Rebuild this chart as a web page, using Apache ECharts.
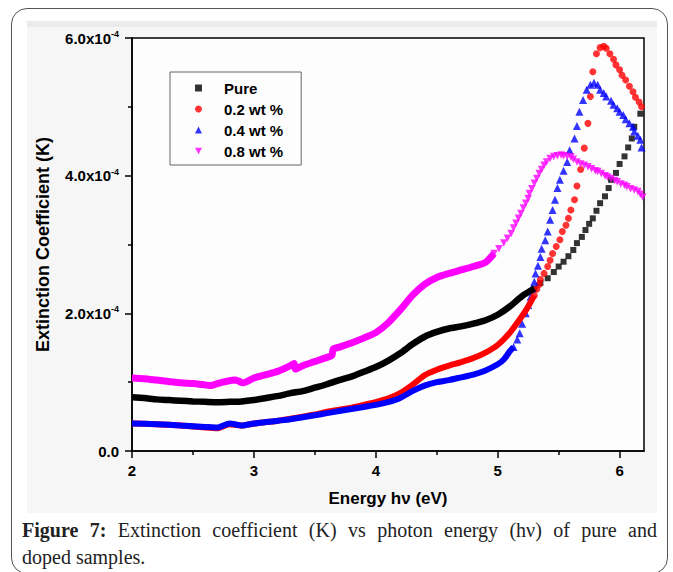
<!DOCTYPE html>
<html>
<head>
    <meta charset="utf-8">
    <title>Extinction coefficient vs photon energy</title>
    <script src="https://cdn.jsdelivr.net/npm/echarts@6.0.0/dist/echarts.min.js"></script>
    <style>
        html, body { margin: 0; padding: 0; background: #fff; }
        #wrap { position: relative; width: 673px; height: 572px; overflow: hidden; }
        #card { position: absolute; left: 11px; top: 8px; width: 657px; height: 566px; border: 1.5px solid #555; border-radius: 16px; box-sizing: border-box; }
        #chart { position: absolute; left: 0; top: 0; width: 673px; height: 572px; }
        #caption { position: absolute; left: 22px; top: 517px; width: 635px; font-family: "Liberation Serif", "DejaVu Serif", serif; font-size: 20px; line-height: 27px; color: #222; }
        #caption .l1 { text-align: justify; text-align-last: justify; }
    </style>
</head>
<body>
<div id="wrap">
    <div id="card"></div>
    <div id="chart"></div>
    <div id="caption">
        <div class="l1"><b>Figure 7:</b> Extinction coefficient (K) vs photon energy (hν) of pure and</div>
        <div>doped samples.</div>
    </div>
</div>
<script>
    // values, K in units of 1e-4
    // dense part (markers merge into a band) and sparse part (separate markers)
    var pureLine = [[2.0,0.78],[2.1,0.77],[2.2,0.75],[2.3,0.74],[2.4,0.73],[2.5,0.72],[2.6,0.715],[2.7,0.71],[2.8,0.715],[2.9,0.72],
        [3.0,0.74],[3.1,0.77],[3.2,0.80],[3.3,0.84],[3.4,0.87],[3.5,0.92],[3.6,0.97],[3.7,1.03],[3.8,1.08],[3.9,1.15],
        [4.0,1.22],[4.1,1.31],[4.2,1.42],[4.3,1.55],[4.4,1.66],[4.5,1.73],[4.6,1.78],[4.7,1.81],[4.8,1.85],[4.9,1.90],
        [5.0,1.98],[5.1,2.10],[5.2,2.25],[5.3,2.36]];
    var pureDots = [[5.30,2.36],[5.35,2.44],[5.41,2.51],[5.46,2.60],[5.50,2.68],[5.54,2.75],[5.58,2.83],[5.62,2.92],[5.65,3.02],
        [5.69,3.11],[5.72,3.21],[5.75,3.30],[5.78,3.38],[5.81,3.49],[5.84,3.60],[5.88,3.70],[5.91,3.82],[5.93,3.94],
        [5.97,4.04],[6.00,4.17],[6.04,4.28],[6.07,4.41],[6.10,4.54],[6.12,4.71],[6.17,4.90]];

    var wt02Line = [[2.0,0.40],[2.2,0.39],[2.4,0.37],[2.6,0.34],[2.7,0.33],[2.8,0.39],[2.9,0.37],[3.0,0.40],[3.1,0.42],[3.2,0.44],
        [3.3,0.47],[3.4,0.50],[3.5,0.53],[3.6,0.57],[3.7,0.60],[3.8,0.63],[3.9,0.67],[4.0,0.71],[4.1,0.76],[4.2,0.84],
        [4.3,0.96],[4.4,1.10],[4.5,1.18],[4.6,1.24],[4.7,1.29],[4.8,1.35],[4.9,1.43],[5.0,1.54],[5.1,1.72],[5.2,1.96],
        [5.25,2.10],[5.3,2.26]];
    var wt02Dots = [[5.30,2.26],[5.32,2.35],[5.34,2.42],[5.35,2.49],[5.38,2.58],[5.41,2.68],[5.43,2.77],[5.45,2.87],[5.48,2.97],
        [5.51,3.07],[5.53,3.19],[5.56,3.28],[5.58,3.38],[5.60,3.50],[5.63,3.65],[5.65,3.85],[5.68,4.09],[5.71,4.40],
        [5.74,4.76],[5.76,5.15],[5.78,5.51],[5.81,5.77],[5.84,5.86],[5.87,5.88],[5.89,5.85],[5.92,5.77],[5.95,5.69],
        [5.97,5.61],[6.00,5.54],[6.02,5.46],[6.05,5.39],[6.08,5.30],[6.11,5.22],[6.13,5.14],[6.16,5.07],[6.18,5.00]];

    var wt04Line = [[2.0,0.40],[2.2,0.39],[2.4,0.37],[2.6,0.35],[2.7,0.34],[2.8,0.40],[2.9,0.37],[3.0,0.40],[3.1,0.42],[3.2,0.44],
        [3.3,0.46],[3.4,0.49],[3.5,0.52],[3.6,0.55],[3.7,0.58],[3.8,0.61],[3.9,0.64],[4.0,0.67],[4.1,0.71],[4.2,0.77],
        [4.3,0.87],[4.4,0.95],[4.5,1.00],[4.6,1.03],[4.7,1.07],[4.8,1.11],[4.9,1.17],[5.0,1.26],[5.05,1.33],[5.1,1.45],
        [5.13,1.51]];
    var wt04Dots = [[5.13,1.51],[5.16,1.62],[5.18,1.71],[5.20,1.85],[5.23,2.00],[5.25,2.12],[5.27,2.24],[5.28,2.36],[5.30,2.46],
        [5.31,2.58],[5.33,2.69],[5.35,2.82],[5.36,2.94],[5.39,3.06],[5.41,3.19],[5.43,3.36],[5.45,3.50],[5.47,3.65],
        [5.49,3.82],[5.51,3.94],[5.54,4.07],[5.57,4.20],[5.59,4.37],[5.63,4.54],[5.65,4.72],[5.67,4.93],[5.70,5.10],
        [5.73,5.25],[5.76,5.32],[5.79,5.35],[5.82,5.32],[5.84,5.25],[5.87,5.20],[5.89,5.15],[5.93,5.09],[5.95,5.03],
        [5.98,4.98],[6.00,4.93],[6.03,4.88],[6.05,4.82],[6.08,4.76],[6.11,4.71],[6.12,4.64],[6.15,4.58],[6.17,4.52],
        [6.18,4.41]];

    var wt08Line = [[2.0,1.06],[2.1,1.05],[2.2,1.03],[2.3,1.01],[2.4,0.99],[2.5,0.98],[2.6,0.96],[2.65,0.95],[2.7,0.98],[2.77,1.01],
        [2.85,1.03],[2.91,0.99],[3.0,1.06],[3.1,1.11],[3.2,1.16],[3.3,1.24],[3.33,1.27],[3.34,1.19],[3.4,1.24],[3.5,1.30],
        [3.6,1.36],[3.64,1.39],[3.65,1.48],[3.7,1.51],[3.8,1.57],[3.9,1.64],[4.0,1.72],[4.1,1.86],[4.2,2.05],[4.3,2.26],
        [4.4,2.42],[4.5,2.52],[4.6,2.58],[4.7,2.63],[4.8,2.68],[4.9,2.74],[4.97,2.87]];
    var wt08Dots = [[4.97,2.87],[5.01,2.94],[5.05,3.02],[5.08,3.09],[5.11,3.16],[5.13,3.24],[5.15,3.31],[5.17,3.38],[5.19,3.45],
        [5.21,3.53],[5.23,3.60],[5.25,3.67],[5.26,3.74],[5.28,3.81],[5.30,3.89],[5.32,3.96],[5.34,4.03],[5.36,4.09],
        [5.38,4.15],[5.40,4.20],[5.43,4.25],[5.46,4.28],[5.49,4.29],[5.52,4.30],[5.54,4.29],[5.57,4.28],[5.60,4.27],
        [5.62,4.24],[5.65,4.20],[5.68,4.17],[5.71,4.15],[5.74,4.13],[5.77,4.10],[5.80,4.07],[5.82,4.06],[5.85,4.03],
        [5.88,4.00],[5.90,3.98],[5.93,3.96],[5.96,3.93],[5.98,3.91],[6.01,3.88],[6.04,3.86],[6.06,3.84],[6.09,3.81],
        [6.12,3.79],[6.15,3.77],[6.17,3.73],[6.19,3.69]];

    var seriesNames = ['Pure', '0.2 wt %', '0.4 wt %', '0.8 wt %'];
    var xTicks = [2, 3, 4, 5, 6];
    var xMinorTicks = [2.5, 3.5, 4.5, 5.5];
    var yTicks = [0, 2, 4, 6];

    var lines = [pureLine, wt02Line, wt04Line, wt08Line];
    var dots = [pureDots, wt02Dots, wt04Dots, wt08Dots];
    var colors = ['#000000', '#ff0000', '#0000ff', '#ff00ff'];
    var symbols = ['rect', 'circle', 'triangle', 'path://M0,0L10,0L5,9Z'];
    var symbolSizes = [6, 7, 8, 7.5];
    var lineWidths = [6.5, 6, 6, 7];
    var font = 'Arial, "Liberation Sans", sans-serif';

    var series = [];
    for (var i = 0; i < 4; i++) {
        series.push({
            type: 'line',
            data: lines[i],
            showSymbol: false,
            smooth: 0.2,
            silent: true,
            legendHoverLink: false,
            lineStyle: {color: colors[i], width: lineWidths[i]}
        });
        series.push({
            type: 'scatter',
            name: seriesNames[i],
            data: dots[i],
            symbol: symbols[i],
            symbolSize: symbolSizes[i],
            itemStyle: {color: colors[i]}
        });
    }

    var myChart = echarts.init(document.getElementById('chart'), null, {renderer: 'svg'});
    myChart.setOption({
        animation: false,
        textStyle: {fontFamily: font},
        graphic: [
            {type: 'rect', z: -10, shape: {x: 27, y: 21, width: 630, height: 492}, style: {fill: '#f6f6f6'}},
            {type: 'rect', z: -9, shape: {x: 27, y: 21, width: 630, height: 6}, style: {fill: '#ebebeb'}}
        ],
        grid: {
            left: 132, right: 29, top: 38, bottom: 121,
            show: true, backgroundColor: '#fdfdfd', borderColor: '#000', borderWidth: 1.5
        },
        legend: {
            data: seriesNames.map(function (n, k) { return {name: n, icon: symbols[k]}; }),
            orient: 'vertical',
            left: 170, top: 72,
            padding: [8, 18, 6, 25],
            itemGap: 5,
            itemWidth: 7, itemHeight: 7,
            selectedMode: false,
            backgroundColor: '#fdfdfd',
            borderColor: '#666', borderWidth: 1,
            textStyle: {fontFamily: font, fontWeight: 'bold', fontSize: 15, lineHeight: 16, color: '#000', padding: [0, 0, 0, 17]}
        },
        xAxis: [{
            type: 'value', min: 2, max: 6.2,
            axisLine: {show: true, onZero: false, lineStyle: {color: '#000', width: 1.5}},
            axisTick: {show: true, length: 7, customValues: xTicks, lineStyle: {color: '#000', width: 1.5}},
            axisLabel: {customValues: xTicks, margin: 12, color: '#000', fontWeight: 'bold', fontSize: 15, fontFamily: font},
            splitLine: {show: false},
            name: 'Energy h\u03bd (eV)', nameLocation: 'middle', nameGap: 39,
            nameTextStyle: {color: '#000', fontWeight: 'bold', fontSize: 17, fontFamily: font}
        }, {
            type: 'value', min: 2, max: 6.2, position: 'bottom',
            axisLine: {show: false},
            axisTick: {show: true, length: 4, customValues: xMinorTicks, lineStyle: {color: '#000', width: 1.5}},
            axisLabel: {show: false},
            splitLine: {show: false}
        }],
        yAxis: {
            type: 'value', min: 0, max: 6, interval: 2,
            axisLine: {show: true, lineStyle: {color: '#000', width: 1.5}},
            axisTick: {show: true, length: 7, lineStyle: {color: '#000', width: 1.5}},
            minorTick: {show: true, splitNumber: 2, length: 4, lineStyle: {color: '#000', width: 1.5}},
            splitLine: {show: false},
            axisLabel: {
                margin: 13,
                formatter: function (v) {
                    if (yTicks.indexOf(v) < 0) return '';
                    return v === 0 ? '{m|0.0}' : '{m|' + v.toFixed(1) + 'x10}{s|-4}';
                },
                rich: {
                    m: {color: '#000', fontWeight: 'bold', fontSize: 15, lineHeight: 17, fontFamily: font},
                    s: {color: '#000', fontWeight: 'bold', fontSize: 9, lineHeight: 9, verticalAlign: 'top', fontFamily: font}
                }
            },
            name: 'Extinction Coefficient (K)', nameLocation: 'middle', nameGap: 80,
            nameTextStyle: {color: '#000', fontWeight: 'bold', fontSize: 18, fontFamily: font}
        },
        series: series
    });
</script>
</body>
</html>
